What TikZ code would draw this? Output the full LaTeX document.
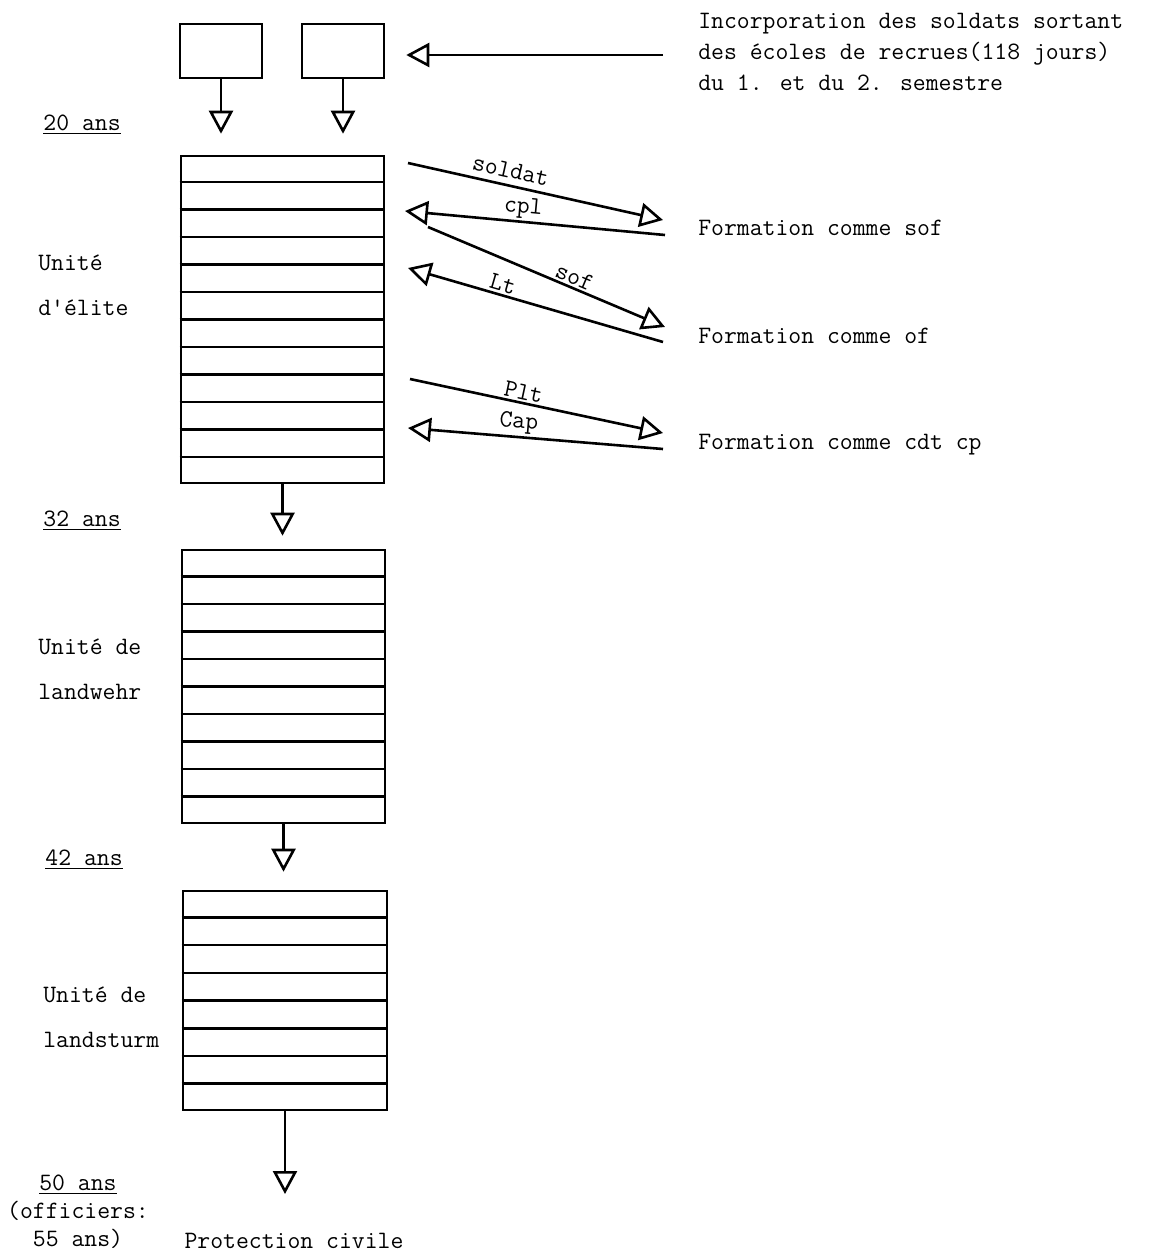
\documentclass[tikz,border=0pt]{standalone}
\usepackage{fontspec}
\usepackage{tikz}
\usetikzlibrary{arrows.meta,calc}
\newcommand\tw{\fontsize{12.5}{15.5}\selectfont\ttfamily}

\begin{document}
\begin{tikzpicture}[x=0.5pt,y=-0.5pt,line width=1.3pt,
    semester/.style={draw,minimum width=41pt,minimum height=27pt,inner sep=0pt},
    unit/.style={draw,minimum width=101.5pt,inner sep=0pt},
    flow/.style={-{Triangle[open,length=11.5pt,width=12pt]}},
    flowback/.style={{Triangle[open,length=11.5pt,width=12pt]}-},
    txt/.style={font=\tw,inner sep=0pt,anchor=west},
    age/.style={font=\tw,inner sep=0pt,align=center},
    rank/.style={font=\tw,sloped,above,inner sep=1pt}]
    \useasboundingbox (0,0) rectangle (1152,1259);

    % recruits
    \node[semester] (sem1) at (221,51) {};
    \node[semester] (sem2) at (343,51) {};
    \node[txt,align=left] (incorp) at (697,52) {Incorporation des soldats sortant\\des écoles de recrues(118 jours)\\du 1. et du 2. semestre};
    \coordinate (feed) at (663,55);
    \draw[flow,shorten >=10.5pt] (feed) -- (feed -| sem2.east);

    % units
    \node[unit,minimum height=163.5pt] (elite) at (282.5,319.5) {};
    \node[unit,minimum height=136.5pt] (landwehr) at (283.5,686.5) {};
    \node[unit,minimum width=102pt,minimum height=109.5pt] (landsturm) at (285,1000.5) {};
    \foreach \blk/\n/\last in {elite/12/11,landwehr/10/9,landsturm/8/7}
      \foreach \i in {1,...,\last}
        \draw ($(\blk.north west)!\i/\n!(\blk.south west)$) -- ($(\blk.north east)!\i/\n!(\blk.south east)$);

    \node[txt,align=left] (elitelbl) at (37,285) {Unité\\[7pt]d'élite};
    \node[txt,align=left] (landwehrlbl) at (37,669.5) {Unité de\\[7pt]landwehr};
    \node[txt,align=left] (landsturmlbl) at (42,1017.5) {Unité de\\[7pt]landsturm};

    \node[age] (a20) at (82,125) {\underline{20 ans}};
    \node[age] (a32) at (82,521) {\underline{32 ans}};
    \node[age] (a42) at (84,860) {\underline{42 ans}};
    \node[age] (a50) at (78,1212) {\underline{50 ans}\\[-1.5pt](officiers:\\[-1.5pt]55 ans)};
    \node[age] (civil) at (294,1241) {Protection civile};

    \draw[flow,shorten >=10.5pt] (sem1.south) -- (sem1.south |- elite.north);
    \draw[flow,shorten >=10.5pt] (sem2.south) -- (sem2.south |- elite.north);
    \draw[flow,shorten >=6.5pt] (elite.south) -- (elite.south |- landwehr.north);
    \draw[flow,shorten >=9pt] (landwehr.south) -- (landwehr.south |- landsturm.north);
    \draw[flow,shorten >=19pt] (landsturm.south) -- (landsturm.south |- civil.north);

    % training
    \node[txt] (fsof) at (697,228) {Formation comme sof};
    \node[txt] (fof) at (697,336) {Formation comme of};
    \node[txt] (fcp) at (697,445) {Formation comme cdt cp};

    \coordinate (soldat-a) at (408,163);
    \coordinate (soldat-b) at (663,220);
    \coordinate (cpl-a) at (405,211);
    \coordinate (cpl-b) at (665,235);
    \coordinate (sof-a) at (428,227);
    \coordinate (sof-b) at (665,327);
    \coordinate (lt-a) at (408,268);
    \coordinate (lt-b) at (663,342);
    \coordinate (plt-a) at (410,379);
    \coordinate (plt-b) at (663,433);
    \coordinate (cap-a) at (408,428);
    \coordinate (cap-b) at (663,449);

    \draw[flow] (soldat-a) -- node[rank,pos=0.39,inner sep=3pt] (soldatlbl) {soldat} (soldat-b);
    \draw[flowback] (cpl-a) -- node[rank,pos=0.45] (cpllbl) {cpl} (cpl-b);
    \draw[flow] (sof-a) -- node[rank,pos=0.6] (soflbl) {sof} (sof-b);
    \draw[flowback] (lt-a) -- node[rank,pos=0.36] (ltlbl) {Lt} (lt-b);
    \draw[flow] (plt-a) -- node[rank,pos=0.44] (pltlbl) {Plt} (plt-b);
    \draw[flowback] (cap-a) -- node[rank,pos=0.43] (caplbl) {Cap} (cap-b);
\end{tikzpicture}
\end{document}
